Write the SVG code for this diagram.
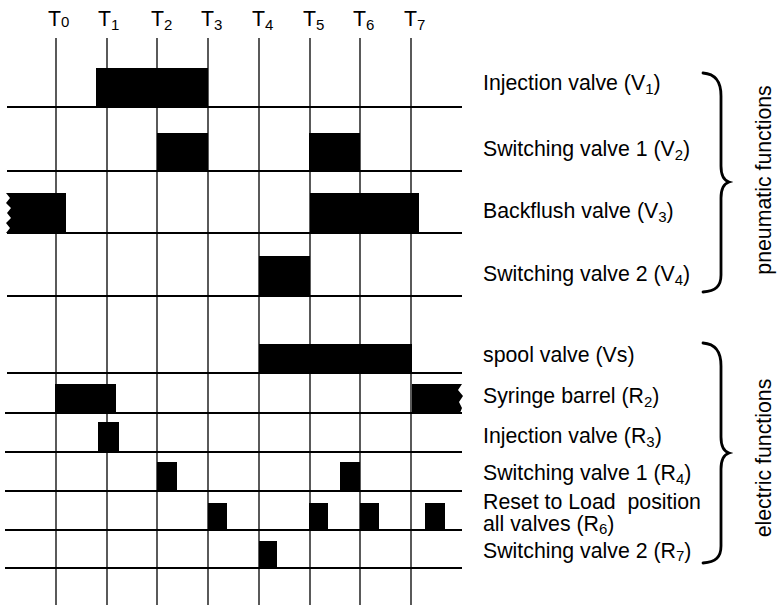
<svg xmlns="http://www.w3.org/2000/svg" width="778" height="605" viewBox="0 0 778 605">
  <style>
    text { font-family: "Liberation Sans", Arial, sans-serif; font-size: 21.3px; fill: #000; }
    .sub { font-size: 15px; }
    .grid-h { stroke: #000; stroke-width: 2; fill: none; }
    .grid-v { stroke: #000; stroke-width: 1.3; fill: none; }
    .bar { fill: #000; }
    .brace { stroke: #000; stroke-width: 2.8; fill: none; stroke-linecap: round; }
  </style>

  <!-- time markers -->
  <g id="time-labels">
    <text x="48" y="26">T<tspan class="sub" dy="1">0</tspan></text>
    <text x="98" y="26">T<tspan class="sub" dy="4">1</tspan></text>
    <text x="151" y="26">T<tspan class="sub" dy="4">2</tspan></text>
    <text x="201" y="26">T<tspan class="sub" dy="4">3</tspan></text>
    <text x="252" y="26">T<tspan class="sub" dy="4">4</tspan></text>
    <text x="303" y="26">T<tspan class="sub" dy="4">5</tspan></text>
    <text x="353" y="26">T<tspan class="sub" dy="4">6</tspan></text>
    <text x="404" y="26">T<tspan class="sub" dy="4">7</tspan></text>
  </g>

  <!-- grid: time lines and row baselines -->
  <g id="connectors">
    <g class="grid-v">
      <line x1="56" y1="38" x2="56" y2="605"/>
      <line x1="107" y1="38" x2="107" y2="605"/>
      <line x1="157" y1="38" x2="157" y2="605"/>
      <line x1="208" y1="38" x2="208" y2="605"/>
      <line x1="259" y1="38" x2="259" y2="605"/>
      <line x1="310" y1="38" x2="310" y2="605"/>
      <line x1="360" y1="38" x2="360" y2="605"/>
      <line x1="411" y1="38" x2="411" y2="605"/>
    </g>
    <g class="grid-h">
      <line x1="7" y1="107" x2="462" y2="107"/>
      <line x1="7" y1="171" x2="462" y2="171"/>
      <line x1="7" y1="233" x2="462" y2="233"/>
      <line x1="7" y1="296" x2="462" y2="296"/>
      <line x1="7" y1="373" x2="462" y2="373"/>
      <line x1="5" y1="413" x2="462" y2="413"/>
      <line x1="5" y1="452" x2="462" y2="452"/>
      <line x1="5" y1="491" x2="462" y2="491"/>
      <line x1="5" y1="530" x2="462" y2="530"/>
      <line x1="5" y1="568" x2="462" y2="568"/>
    </g>
  </g>

  <!-- pneumatic functions -->
  <g id="row-v1">
    <rect class="bar" x="96" y="68" width="112" height="39"/>
    <text x="483" y="90">Injection valve (V<tspan class="sub" dy="4">1</tspan><tspan dy="-4">)</tspan></text>
  </g>
  <g id="row-v2">
    <rect class="bar" x="157" y="133" width="51" height="38"/>
    <rect class="bar" x="309" y="133" width="51" height="38"/>
    <text x="483" y="156">Switching valve 1 (V<tspan class="sub" dy="4">2</tspan><tspan dy="-4">)</tspan></text>
  </g>
  <g id="row-v3">
    <path class="bar" d="M6 193 L66 193 L66 233 L6 233 L10 228 L6 223 L11 218 L7 213 L11 208 L6 203 L10 198 Z"/>
    <rect class="bar" x="310" y="193" width="109" height="40"/>
    <text x="483" y="218">Backflush valve (V<tspan class="sub" dy="4">3</tspan><tspan dy="-4">)</tspan></text>
  </g>
  <g id="row-v4">
    <rect class="bar" x="259" y="256" width="51" height="40"/>
    <text x="483" y="281">Switching valve 2 (V<tspan class="sub" dy="4">4</tspan><tspan dy="-4">)</tspan></text>
  </g>

  <!-- electric functions -->
  <g id="row-vs">
    <rect class="bar" x="259" y="344" width="153" height="29"/>
    <text x="483" y="362">spool valve (Vs)</text>
  </g>
  <g id="row-r2">
    <rect class="bar" x="55" y="384" width="61" height="29"/>
    <path class="bar" d="M412 384 L462 384 L458 390 L463 396 L459 402 L462 408 L460 413 L412 413 Z"/>
    <text x="483" y="403">Syringe barrel (R<tspan class="sub" dy="4">2</tspan><tspan dy="-4">)</tspan></text>
  </g>
  <g id="row-r3">
    <rect class="bar" x="98" y="422" width="21" height="30"/>
    <text x="483" y="443">Injection valve (R<tspan class="sub" dy="4">3</tspan><tspan dy="-4">)</tspan></text>
  </g>
  <g id="row-r4">
    <rect class="bar" x="157" y="462" width="20" height="29"/>
    <rect class="bar" x="340" y="462" width="20" height="29"/>
    <text x="483" y="480">Switching valve 1 (R<tspan class="sub" dy="4">4</tspan><tspan dy="-4">)</tspan></text>
  </g>
  <g id="row-r6">
    <rect class="bar" x="208" y="503" width="19" height="27"/>
    <rect class="bar" x="309" y="503" width="19" height="27"/>
    <rect class="bar" x="360" y="503" width="19" height="27"/>
    <rect class="bar" x="425" y="503" width="20" height="27"/>
    <text x="483" y="509" xml:space="preserve">Reset to Load  position</text>
    <text x="483" y="531">all valves (R<tspan class="sub" dy="3">6</tspan><tspan dy="-3">)</tspan></text>
  </g>
  <g id="row-r7">
    <rect class="bar" x="259" y="541" width="18" height="27"/>
    <text x="483" y="558">Switching valve 2 (R<tspan class="sub" dy="3">7</tspan><tspan dy="-3">)</tspan></text>
  </g>

  <!-- group braces and captions -->
  <g id="group-pneumatic">
    <path class="brace" d="M703 73 C716 74 721 82 721 96 L721 166 C721 175 723 180 729 182 C723 184 721 189 721 198 L721 275 C721 286 716 291 703 292"/>
    <text transform="translate(771 180) rotate(-90)" text-anchor="middle">pneumatic functions</text>
  </g>
  <g id="group-electric">
    <path class="brace" d="M703 343 C716 344 721 352 721 366 L721 437 C721 446 723 451 729 453 C723 455 721 460 721 469 L721 546 C721 557 716 562 703 563"/>
    <text transform="translate(771 458) rotate(-90)" text-anchor="middle">electric functions</text>
  </g>
</svg>
